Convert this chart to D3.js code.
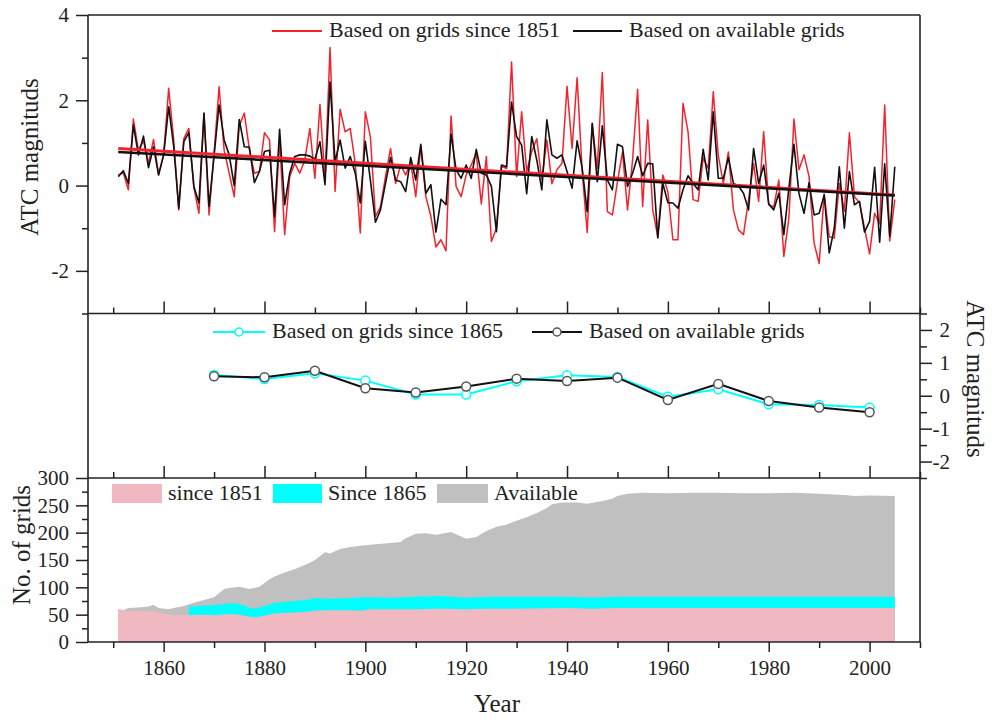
<!DOCTYPE html>
<html>
<head>
<meta charset="utf-8">
<script src="https://cdn.jsdelivr.net/npm/d3@7/dist/d3.min.js"></script>
<style>
  body { margin: 0; background: #fff; }
  svg { font-family: "Liberation Serif", "Times New Roman", serif; }
  .axis path { display: none; }
  .axis line { stroke: #222; stroke-width: 1.5; }
  .axis text { fill: #222; font-size: 21px; font-family: "Liberation Serif", serif; }
</style>
</head>
<body>
<svg id="chart" width="993" height="722"></svg>
<script>
// ---- top panel: annual ATC magnitudes, 1851..2005 -------------------------
var START_YEAR = 1851;

var atcSince1851 = [
  0.25, 0.30, -0.10, 1.56, 0.83, 1.05, 0.52, 1.08, 0.25, 0.72,
  2.28, 1.07, -0.57, 1.10, 1.34, -0.05, -0.65, 1.69, -0.69, 0.75,
  2.32, 0.83, 0.29, -0.26, 1.40, 1.70, 0.85, 0.29, 0.33, 1.24,
  1.07, -1.08, 1.10, -1.15, 0.21, 0.52, 0.29, 0.60, 1.34, 0.17,
  1.90, 0.15, 3.24, -0.14, 1.79, 1.26, 1.34, 0.52, -1.11, 1.73,
  1.15, -0.72, -0.50, 0.21, 0.87, 0.05, 0.48, 0.25, 0.55, -0.26,
  0.91, -0.26, -0.72, -1.44, -1.27, -1.53, 1.63, -0.02, -0.26, 0.25,
  0.48, 0.76, -0.43, 0.68, -1.31, -1.00, 0.45, 0.40, 2.90, 0.21,
  1.73, 0.33, 0.80, 1.10, 0.13, 1.07, 0.04, 0.37, 0.52, 2.33,
  0.87, 2.53, 0.35, -1.10, 1.45, 0.40, 2.65, -0.61, -0.69, 0.09,
  0.79, -0.57, 0.60, 2.26, -0.49, 1.54, -0.57, -1.20, 0.25, -0.15,
  -1.27, -1.27, 1.93, 1.26, -0.33, -0.37, 0.65, 0.40, 2.20, 0.70,
  0.05, 0.79, -0.57, -1.04, -1.15, -0.33, 0.52, -0.37, 1.26, -0.45,
  -0.50, 0.13, -1.66, -0.76, 1.56, 0.37, 0.72, 0.21, -1.35, -1.83,
  -0.20, -1.20, -1.23, 0.05, -0.60, 1.24, -0.26, -0.40, -1.00, -1.60,
  -0.65, -0.90, 1.89, -1.30, -0.33
];

var atcAvailable = [
  0.21, 0.35, 0.05, 1.42, 0.72, 1.16, 0.42, 0.91, 0.25, 0.72,
  1.85, 0.91, -0.53, 1.03, 1.24, -0.02, -0.41, 1.70, -0.49, 0.70,
  1.89, 1.07, 0.72, 0.00, 1.55, 0.91, 0.90, 0.07, 0.33, 0.80,
  0.83, -0.73, 1.32, -0.45, 0.29, 0.68, 0.72, 0.72, 0.69, 0.62,
  1.03, 0.02, 2.43, 0.56, 1.07, 0.41, 0.68, 0.29, -0.41, 1.04,
  0.13, -0.86, -0.57, 0.05, 0.66, 0.13, 0.09, -0.14, 0.66, 0.13,
  0.97, -0.18, 0.02, -1.09, -0.32, -0.45, 1.21, 0.37, 0.17, 0.48,
  0.17, 0.85, 0.29, 0.25, -0.02, -1.08, 0.48, 0.44, 1.96, 1.15,
  0.95, -0.19, 1.15, 0.60, -0.10, 1.54, 0.72, 0.64, 0.72, 0.33,
  -0.06, 1.05, 0.41, -0.61, 1.46, 0.09, 1.40, 0.13, -0.10, 0.97,
  0.91, -0.02, 0.29, 0.68, 0.23, 0.52, 0.51, -1.23, 0.05, -0.40,
  -0.41, -0.53, -0.10, 0.23, 0.05, -0.10, 0.85, 0.13, 1.73, 0.17,
  0.17, 0.66, 0.05, -0.01, -0.18, -0.57, 0.87, 0.05, 0.48, -0.43,
  -0.57, -0.18, -1.15, -0.06, 0.97, -0.19, -0.65, 0.07, -0.69, -0.65,
  -0.22, -1.58, -1.00, 0.44, -1.00, 0.33, -0.45, -0.37, -1.09, -0.84,
  0.43, -1.33, 0.51, -1.19, 0.44
];

// linear trends, value at 1851 and at 2005
var trendYears = [1851, 2005];
var trendSince1851 = [0.87, -0.22];
var trendAvailable = [0.79, -0.23];

// ---- middle panel: decadal ATC --------------------------------------------
var decadeYears = [1870, 1880, 1890, 1900, 1910, 1920, 1930, 1940, 1950, 1960, 1970, 1980, 1990, 2000];
var decadeSince1865 = [0.63, 0.51, 0.68, 0.46, 0.04, 0.04, 0.44, 0.62, 0.57, -0.03, 0.20, -0.26, -0.28, -0.36];
var decadeAvailable = [0.59, 0.56, 0.76, 0.23, 0.10, 0.28, 0.52, 0.45, 0.55, -0.13, 0.36, -0.16, -0.36, -0.50];

// ---- bottom panel: number of grids ----------------------------------------
var availYears = [1851, 1852, 1853, 1855, 1857, 1858, 1859, 1861, 1862, 1864, 1866, 1868, 1870, 1872, 1873,
  1875, 1877, 1879, 1881, 1882, 1884, 1886, 1887, 1889, 1890, 1892, 1893, 1895, 1897, 1899, 1902, 1905, 1907,
  1908, 1910, 1912, 1914, 1917, 1919, 1920, 1922, 1924, 1926, 1928, 1930, 1932, 1934, 1936, 1937, 1939, 1942,
  1944, 1947, 1949, 1950, 1952, 1955, 1960, 1965, 1970, 1975, 1980, 1985, 1990, 1995, 1997, 2000, 2005];
var availGrids = [60, 58, 62, 63, 65, 68, 62, 60, 62, 66, 72, 77, 82, 97, 99,
  101, 97, 101, 115, 120, 127, 133, 137, 145, 150, 164, 162, 170, 174, 176, 179, 181, 183,
  190, 198, 199, 196, 201, 193, 189, 192, 203, 211, 215, 222, 228, 236, 245, 252, 255, 255,
  253, 258, 262, 267, 271, 273, 272, 273, 273, 272, 272, 273, 271, 269, 267, 268, 267];

var since1865Years = [1865, 1867, 1869, 1871, 1873, 1875, 1877, 1878, 1880, 1882, 1885, 1888, 1890, 1893,
  1896, 1900, 1905, 1910, 1915, 1920, 1925, 1930, 1940, 1945, 1950, 2005];
var since1865Grids = [65, 66, 67, 68, 71, 70, 63, 61, 66, 72, 74, 77, 80, 79,
  80, 82, 81, 83, 84, 81, 83, 83, 83, 81, 83, 83];

var since1851Years = [1851, 1852, 1853, 1855, 1857, 1858, 1859, 1861, 1863, 1865, 1868, 1870, 1873, 1875,
  1877, 1878, 1880, 1882, 1884, 1886, 1888, 1890, 1893, 1897, 1899, 1901, 1905, 1910, 1915, 1920, 1925,
  1930, 1940, 1945, 1950, 2005];
var since1851Grids = [61, 58, 56, 57, 56, 57, 53, 50, 49, 49, 50, 49, 51, 50,
  46, 45, 48, 52, 53, 54, 55, 57, 58, 58, 57, 60, 60, 60, 61, 60, 61,
  61, 62, 61, 62, 62];

var decadeTicks = [1850, 1860, 1870, 1880, 1890, 1900, 1910, 1920, 1930, 1940, 1950, 1960, 1970, 1980, 1990, 2000, 2010];
var yearLabels = [1860, 1880, 1900, 1920, 1940, 1960, 1980, 2000];

var RED = "#f5222d", CYAN = "#00ffff", PINK = "#f0b9c2", GREY = "#c0c0c0";

// ===========================================================================
var svg = d3.select("#chart");
var left = 88, right = 920;
var topY0 = 15, topY1 = 313.5, midY1 = 478, botY1 = 642;

var x = d3.scaleLinear().domain([1845, 2010]).range([left, right]);
var yTop = d3.scaleLinear().domain([-3, 4]).range([topY1, topY0]);
var yMid = d3.scaleLinear().domain([-2.5, 2.5]).range([midY1, topY1]);
var yBot = d3.scaleLinear().domain([0, 300]).range([botY1, midY1]);

var minorX = decadeTicks.filter(function (d) { return yearLabels.indexOf(d) < 0; });

function addAxis(axis, tx, ty) {
    return svg.append("g").attr("class", "axis")
        .attr("transform", "translate(" + tx + "," + ty + ")")
        .call(axis);
}

// ---- bottom panel areas ----
function areaFor(years, vals) {
    var pts = years.map(function (y, i) { return [y, vals[i]]; });
    return d3.area()
        .x(function (d) { return x(d[0]); })
        .y0(yBot(0))
        .y1(function (d) { return yBot(d[1]); })(pts);
}
svg.append("path").attr("d", areaFor(availYears, availGrids)).attr("fill", GREY);
svg.append("path").attr("d", areaFor(since1865Years, since1865Grids)).attr("fill", CYAN);
svg.append("path").attr("d", areaFor(since1851Years, since1851Grids)).attr("fill", PINK);

// ---- top panel lines ----
var annual = function (vals) {
    return vals.map(function (v, i) { return [START_YEAR + i, v]; });
};
var lineTop = d3.line()
    .x(function (d) { return x(d[0]); })
    .y(function (d) { return yTop(d[1]); });

svg.append("path").datum(annual(atcSince1851)).attr("d", lineTop)
    .attr("fill", "none").attr("stroke", RED).attr("stroke-width", 1.5).attr("stroke-linejoin", "round");
svg.append("path").datum(annual(atcAvailable)).attr("d", lineTop)
    .attr("fill", "none").attr("stroke", "#111").attr("stroke-width", 1.6).attr("stroke-linejoin", "round");

svg.append("path").datum(trendYears.map(function (y, i) { return [y, trendSince1851[i]]; }))
    .attr("d", lineTop).attr("fill", "none").attr("stroke", RED).attr("stroke-width", 3);
svg.append("path").datum(trendYears.map(function (y, i) { return [y, trendAvailable[i]]; }))
    .attr("d", lineTop).attr("fill", "none").attr("stroke", "#111").attr("stroke-width", 2.5);

// ---- middle panel lines ----
var lineMid = d3.line()
    .x(function (d) { return x(d[0]); })
    .y(function (d) { return yMid(d[1]); });

function decadeSeries(vals, color, marker) {
    var pts = decadeYears.map(function (y, i) { return [y, vals[i]]; });
    svg.append("path").datum(pts).attr("d", lineMid)
        .attr("fill", "none").attr("stroke", color).attr("stroke-width", 2);
    svg.append("g").selectAll("circle").data(pts).enter().append("circle")
        .attr("cx", function (d) { return x(d[0]); })
        .attr("cy", function (d) { return yMid(d[1]); })
        .attr("r", 4.5)
        .attr("fill", "#fff").attr("stroke", marker).attr("stroke-width", 1.5);
}
decadeSeries(decadeSince1865, CYAN, CYAN);
decadeSeries(decadeAvailable, "#111", "#555");

// ---- frame ----
var frame = svg.append("g").attr("stroke", "#222").attr("stroke-width", 1.6);
frame.append("line").attr("x1", left).attr("x2", left).attr("y1", topY0).attr("y2", botY1);
frame.append("line").attr("x1", right).attr("x2", right).attr("y1", topY0).attr("y2", botY1);
[topY0, topY1, midY1, botY1].forEach(function (yy) {
    frame.append("line").attr("x1", left).attr("x2", right).attr("y1", yy).attr("y2", yy);
});

// ---- axes ----
// top panel left
addAxis(d3.axisLeft(yTop).tickValues([-2, 0, 2, 4]).tickSize(12).tickPadding(7)
    .tickFormat(function (d) { return d < 0 ? "-" + (-d) : d; }), left, 0);
addAxis(d3.axisLeft(yTop).tickValues([-3, -1, 1, 3]).tickSize(6).tickFormat(""), left, 0);

// inward year ticks at bottom of top and middle panels
[topY1, midY1].forEach(function (yy) {
    addAxis(d3.axisTop(x).tickValues(yearLabels).tickSize(12).tickFormat(""), 0, yy);
    addAxis(d3.axisTop(x).tickValues(minorX).tickSize(6).tickFormat(""), 0, yy);
});

// middle panel right
var midRight = addAxis(d3.axisRight(yMid).tickValues([-2, -1, 0, 1, 2]).tickSize(12)
    .tickFormat(function (d) { return d < 0 ? "-" + (-d) : d; }), right, 0);
midRight.selectAll("text").attr("text-anchor", "end").attr("x", 30);
addAxis(d3.axisRight(yMid).tickValues([-2.5, -1.5, -0.5, 0.5, 1.5, 2.5]).tickSize(7).tickFormat(""), right, 0);

// bottom panel left
addAxis(d3.axisLeft(yBot).tickValues([0, 50, 100, 150, 200, 250, 300]).tickSize(12).tickPadding(7), left, 0);
addAxis(d3.axisLeft(yBot).tickValues([25, 75, 125, 175, 225, 275]).tickSize(6).tickFormat(""), left, 0);

// bottom panel year axis
addAxis(d3.axisBottom(x).tickValues(yearLabels).tickSize(10).tickPadding(8).tickFormat(d3.format("d")), 0, botY1);
addAxis(d3.axisBottom(x).tickValues(minorX).tickSize(6).tickFormat(""), 0, botY1);

// ---- axis titles ----
svg.append("text").attr("transform", "translate(38,157) rotate(-90)")
    .attr("text-anchor", "middle").style("font-size", "25px").attr("fill", "#222").text("ATC magnituds");
svg.append("text").attr("transform", "translate(967,379) rotate(90)")
    .attr("text-anchor", "middle").style("font-size", "25px").attr("fill", "#222").text("ATC magnituds");
svg.append("text").attr("transform", "translate(30,545) rotate(-90)")
    .attr("text-anchor", "middle").style("font-size", "25px").attr("fill", "#222").text("No. of grids");
svg.append("text").attr("x", 497).attr("y", 712)
    .attr("text-anchor", "middle").style("font-size", "25px").attr("fill", "#222").text("Year");

// ---- legends ----
function legendLine(x1, x2, yy, color, label, marker) {
    svg.append("line").attr("x1", x1).attr("x2", x2).attr("y1", yy).attr("y2", yy)
        .attr("stroke", color).attr("stroke-width", 1.8);
    if (marker) {
        svg.append("circle").attr("cx", (x1 + x2) / 2).attr("cy", yy).attr("r", 4)
            .attr("fill", "#fff").attr("stroke", marker).attr("stroke-width", 1.5);
    }
    svg.append("text").attr("x", x2 + 7).attr("y", yy + 6).style("font-size", "22px")
        .attr("fill", "#222").text(label);
}
legendLine(272, 322, 31, RED, "Based on grids since 1851");
legendLine(573, 622, 31, "#111", "Based on available grids");
legendLine(213, 265, 332, CYAN, "Based on grids since 1865", CYAN);
legendLine(532, 582, 332, "#111", "Based on available grids", "#555");

function legendBox(x1, w, color, label) {
    svg.append("rect").attr("x", x1).attr("y", 484).attr("width", w).attr("height", 19).attr("fill", color);
    svg.append("text").attr("x", x1 + w + 6).attr("y", 500).style("font-size", "22px")
        .attr("fill", "#222").text(label);
}
legendBox(112, 50, PINK, "since 1851");
legendBox(273, 49, CYAN, "Since 1865");
legendBox(437, 51, GREY, "Available");
</script>
</body>
</html>
